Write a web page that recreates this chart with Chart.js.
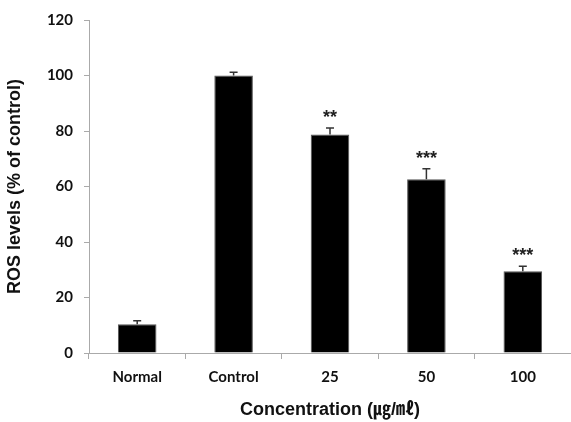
<!DOCTYPE html>
<html>
<head>
<meta charset="utf-8">
<script src="https://cdn.jsdelivr.net/npm/chart.js@4"></script>
<style>
  html, body { margin: 0; padding: 0; background: #fff; }
  #chart { display: block; }
</style>
</head>
<body>
<canvas id="chart" width="571" height="422"></canvas>
<script>
const categories = ['Normal', 'Control', '25', '50', '100'];
const rosLevels = [10.4, 100, 78.7, 62.6, 29.5];
const errors = [1.2, 1.2, 2.4, 3.8, 1.8];
const marks = ['', '', '**', '***', '***'];
const yTicks = [0, 20, 40, 60, 80, 100, 120];

const tickFont = { family: 'Lato, "Liberation Sans", sans-serif', size: 15, weight: 'bold' };
const titleFont = { family: '"Liberation Sans", "Noto Sans CJK KR", sans-serif', size: 18, weight: 'bold' };

// error bars + significance stars
const errorBars = {
    id: 'errorBars',
    afterDatasetsDraw(chart) {
        const ctx = chart.ctx;
        const y = chart.scales.y;
        const meta = chart.getDatasetMeta(0);
        ctx.save();
        meta.data.forEach((bar, i) => {
            const top = y.getPixelForValue(rosLevels[i] + errors[i]);
            const base = y.getPixelForValue(rosLevels[i]);
            ctx.strokeStyle = '#333';
            ctx.lineWidth = 1.5;
            ctx.beginPath();
            ctx.moveTo(bar.x, base);
            ctx.lineTo(bar.x, top);
            ctx.moveTo(bar.x - 4, top);
            ctx.lineTo(bar.x + 4, top);
            ctx.stroke();
            if (marks[i]) {
                ctx.fillStyle = '#222';
                ctx.font = 'bold 18px "Liberation Sans", sans-serif';
                ctx.textAlign = 'center';
                ctx.textBaseline = 'alphabetic';
                ctx.fillText(marks[i], bar.x, top - 15 + 10);
            }
        });
        ctx.restore();
    }
};

new Chart(document.getElementById('chart'), {
    type: 'bar',
    data: {
        labels: categories,
        datasets: [{
            data: rosLevels,
            backgroundColor: '#000',
            borderColor: '#555',
            borderWidth: 1,
            categoryPercentage: 0.8,
            barPercentage: 0.5
        }]
    },
    options: {
        responsive: false,
        animation: false,
        layout: { padding: { top: 20, right: 0, left: 0, bottom: 0 } },
        plugins: { legend: { display: false }, tooltip: { enabled: false } },
        scales: {
            x: {
                grid: { display: true, drawOnChartArea: false, drawTicks: true, tickLength: 6, color: '#aaa', offset: true },
                border: { color: '#aaa', width: 1 },
                ticks: { font: tickFont, color: '#111', padding: 9 },
                title: { display: true, text: 'Concentration (㎍/㎖)', font: titleFont, color: '#111', padding: { top: 4, bottom: 1 } },
                afterFit(scale) { scale.height = 69; }
            },
            y: {
                min: 0,
                max: 120,
                afterBuildTicks(scale) { scale.ticks = yTicks.map(v => ({ value: v })); },
                grid: { display: true, drawOnChartArea: false, drawTicks: true, tickLength: 5, color: '#aaa' },
                border: { color: '#aaa', width: 1 },
                ticks: { font: tickFont, color: '#111', padding: 11 },
                title: { display: true, text: 'ROS levels (% of control)', font: titleFont, color: '#111', padding: { top: 4, bottom: 2 } },
                afterFit(scale) { scale.width = 89; }
            }
        }
    },
    plugins: [errorBars]
});
</script>
</body>
</html>
